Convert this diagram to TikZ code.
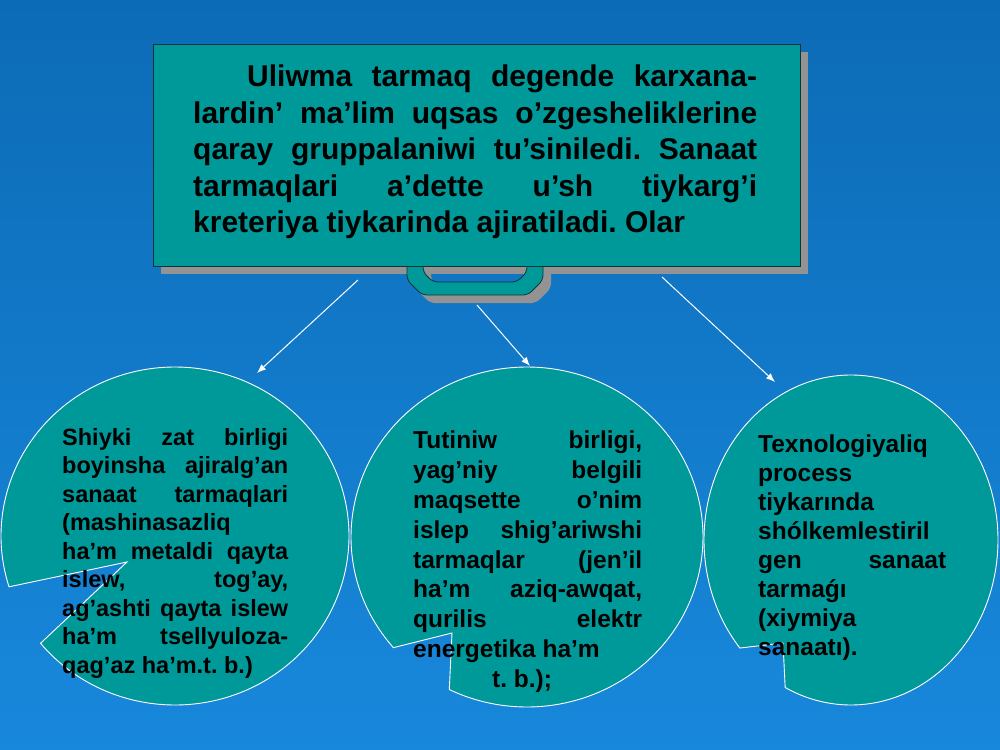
\documentclass[tikz,border=0pt]{standalone}
\usepackage{fontspec}
\setmainfont{Liberation Sans}
\usetikzlibrary{arrows.meta,calc}
\tolerance=10000
\hbadness=10000
\hyphenpenalty=10000
\exhyphenpenalty=10000
\frenchspacing

\begin{document}
\begin{tikzpicture}[x=1bp,y=-1bp,
  slab/.style={fill=sea,draw=edge,line width=0.8bp,inner sep=0},
  shade/.style={fill=shadowgray},
  bubble/.style={fill=sea,draw=white,line width=0.9bp},
  bubbletext/.style={anchor=north west,inner sep=0,text=black,align=justify},
  arrowline/.style={draw=white,line width=1bp,-{Latex[length=9bp,width=7bp]}}]
\definecolor{sea}{HTML}{009999}
\definecolor{edge}{HTML}{123333}
\definecolor{shadowgray}{HTML}{939393}
\definecolor{bgtop}{HTML}{0C6BB6}
\definecolor{bgmid}{HTML}{0B68B2}
\definecolor{bgbot}{HTML}{1888DC}
\useasboundingbox (0,0) rectangle (1000,750);
\shade[top color=bgtop,middle color=bgmid,bottom color=bgbot] (0,0) rectangle (1000,750);
% box with its handle
\fill[shade] (161,52) rectangle (808,274);
\fill[shade,shift={(8,8)},rounded corners=5bp] (407,258) -- (407,280) -- (422,295) -- (528,295) -- (543,280) -- (543,258) -- (527,258) -- (527,272) -- (517,282) -- (433,282) -- (423,272) -- (423,258) -- cycle;
\draw[slab,rounded corners=5bp] (407,258) -- (407,280) -- (422,295) -- (528,295) -- (543,280) -- (543,258) -- (527,258) -- (527,272) -- (517,282) -- (433,282) -- (423,272) -- (423,258) -- cycle;
\node (defn) [slab,minimum width=647bp,minimum height=222bp] at (476.5,155) {};
\node (defntext) [bubbletext,text width=564bp,font={\bfseries\fontsize{30bp}{36.5bp}\selectfont}] at (193,65)
  {\noindent\hspace*{54bp}Uliwma tarmaq degende karxana-\linebreak lardin’ ma’lim uqsas o’zgesheliklerine\linebreak qaray gruppalaniwi tu’siniledi. Sanaat\linebreak tarmaqlari a’dette u’sh tiykarg’i\linebreak kreteriya tiykarinda ajiratiladi. Olar};
% the three groups
\coordinate (lc) at (175,536);
\coordinate (mc) at (527,537);
\coordinate (rc) at (851,540);
\draw[bubble] ($(lc)+(140.6:174 and 169)$) arc[start angle=140.6,end angle=-197.5,x radius=174,y radius=169] -- (127,562) -- cycle;
\draw[bubble] ($(mc)+(139.4:176 and 170)$) arc[start angle=139.4,end angle=476.2,x radius=176,y radius=170] -- (452,633) -- cycle;
\draw[bubble] ($(rc)+(139.1:147 and 165)$) arc[start angle=139.1,end angle=476.6,x radius=147,y radius=165] -- (783,643) -- cycle;
\node (ltext) [bubbletext,text width=226bp,font={\bfseries\fontsize{23.5bp}{28.5bp}\selectfont}] at (62,428)
  {\noindent Shiyki zat birligi\linebreak boyinsha ajiralg’an\linebreak sanaat tarmaqlari\linebreak (mashinasazliq\newline ha’m metaldi qayta\linebreak islew, tog’ay,\linebreak ag’ashti qayta islew\linebreak ha’m tsellyuloza-\linebreak qag’az ha’m.t. b.)};
\node (mtext) [bubbletext,text width=229bp,font={\bfseries\fontsize{24.5bp}{29.8bp}\selectfont}] at (413,431)
  {\noindent Tutiniw birligi,\linebreak yag’niy belgili\linebreak maqsette o’nim\linebreak islep shig’ariwshi\linebreak tarmaqlar (jen’il\linebreak ha’m aziq-awqat,\linebreak qurilis elektr\linebreak energetika ha’m\newline\hspace*{79bp}t. b.);};
\node (rtext) [bubbletext,text width=188bp,font={\bfseries\fontsize{24.5bp}{29bp}\selectfont}] at (758,435)
  {\noindent Texnologiyaliq\newline process\newline tiykarında\newline shólkemlestiril\newline gen sanaat\linebreak tarmaǵı\newline (xiymiya\newline sanaatı).};
% arrows
\coordinate (a1s) at (358,280);
\coordinate (a1e) at (257,373);
\coordinate (a2s) at (477,305);
\coordinate (a2e) at (530,366);
\coordinate (a3s) at (662,277);
\coordinate (a3e) at (775,382);
\foreach \s/\e in {a1s/a1e,a2s/a2e,a3s/a3e}
  \draw[arrowline] (\s) -- (\e);
\end{tikzpicture}
\end{document}
